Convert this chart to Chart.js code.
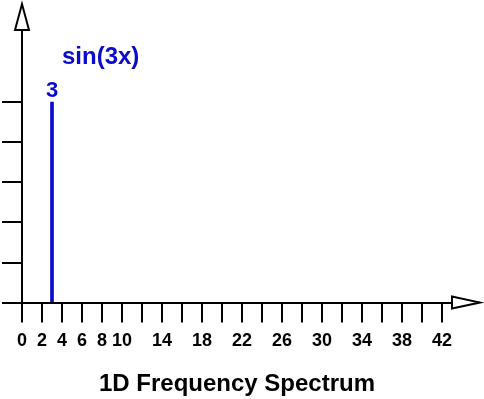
<!DOCTYPE html>
<html>
<head>
<meta charset="utf-8">
<script src="https://cdn.jsdelivr.net/npm/chart.js@4.4.0/dist/chart.umd.min.js"></script>
<style>
  html, body { margin: 0; padding: 0; background: #fff; }
  #wrap { width: 484px; height: 399px; }
</style>
</head>
<body>
<div id="wrap"><canvas id="spectrum"></canvas></div>
<script>
// spectrum data
const frequencies = [3];
const amplitudes = [1];
const xTickValues = [0, 2, 4, 6, 8, 10, 12, 14, 16, 18, 20, 22, 24, 26, 28, 30, 32, 34, 36, 38, 40, 42];
const xLabelValues = [0, 2, 4, 6, 8, 10, 14, 18, 22, 26, 30, 34, 38, 42];
const yTickValues = [0, 0.2, 0.4, 0.6, 0.8, 1];
const signalLabel = 'sin(3x)';
const chartTitle = '1D Frequency Spectrum';

const BLUE = '#0b0bcc';
Chart.defaults.font.family = '"Liberation Sans", Arial, sans-serif';

// arrows on the axes + the text near the spike
const decorations = {
  id: 'decorations',
  afterDraw(chart) {
    const { ctx, chartArea } = chart;
    const xs = chart.scales.x, ys = chart.scales.y;
    const left = chartArea.left, bottom = chartArea.bottom;
    ctx.save();
    ctx.lineWidth = 2;
    ctx.strokeStyle = '#000';
    ctx.fillStyle = '#fff';
    ctx.lineJoin = 'miter';

    // y arrow
    ctx.beginPath();
    ctx.moveTo(left - 7, chartArea.top);
    ctx.lineTo(left, chartArea.top - 26);
    ctx.lineTo(left + 7, chartArea.top);
    ctx.closePath();
    ctx.fill();
    ctx.stroke();

    // x arrow
    ctx.beginPath();
    ctx.moveTo(chartArea.right, bottom - 6);
    ctx.lineTo(chartArea.right + 28, bottom);
    ctx.lineTo(chartArea.right, bottom + 6);
    ctx.closePath();
    ctx.fill();
    ctx.stroke();

    ctx.fillStyle = BLUE;
    frequencies.forEach((f, i) => {
      const px = xs.getPixelForValue(f);
      const py = ys.getPixelForValue(amplitudes[i]);
      ctx.font = 'bold 22px "Liberation Sans", Arial, sans-serif';
      ctx.textAlign = 'center';
      ctx.textBaseline = 'alphabetic';
      ctx.fillText(String(f), px, py - 5);
      ctx.font = 'bold 24px "Liberation Sans", Arial, sans-serif';
      ctx.textAlign = 'left';
      ctx.fillText(signalLabel, px + 10, py - 38);
    });
    ctx.restore();
  }
};

new Chart(document.getElementById('spectrum'), {
  type: 'bar',
  data: {
    datasets: [{
      data: frequencies.map((f, i) => ({ x: f, y: amplitudes[i] })),
      backgroundColor: BLUE,
      borderWidth: 0,
      barThickness: 3
    }]
  },
  options: {
    responsive: true,
    maintainAspectRatio: false,
    animation: false,
    layout: { padding: { left: 2, top: 30, right: 32, bottom: 0 } },
    plugins: {
      legend: { display: false },
      tooltip: { enabled: false }
    },
    scales: {
      x: {
        type: 'linear',
        min: 0,
        max: 43,
        offset: false,
        afterBuildTicks: (scale) => { scale.ticks = xTickValues.map(v => ({ value: v })); },
        grid: { drawOnChartArea: false, drawTicks: true, tickLength: 20, color: '#000', lineWidth: 2, offset: false },
        border: { display: true, color: '#000', width: 2 },
        ticks: {
          autoSkip: false,
          maxRotation: 0,
          padding: 8,
          color: '#000',
          font: { size: 18, weight: 'bold' },
          callback: (v) => xLabelValues.includes(v) ? String(v) : ''
        },
        title: {
          display: true,
          text: chartTitle,
          color: '#000',
          font: { size: 24, weight: 'bold' },
          padding: { top: 10, bottom: 0 }
        }
      },
      y: {
        type: 'linear',
        min: 0,
        max: 1.36,
        afterBuildTicks: (scale) => { scale.ticks = yTickValues.map(v => ({ value: v })); },
        grid: { drawOnChartArea: false, drawTicks: true, tickLength: 20, color: '#000', lineWidth: 2 },
        border: { display: true, color: '#000', width: 2 },
        ticks: { display: false }
      }
    }
  },
  plugins: [decorations]
});
</script>
</body>
</html>
